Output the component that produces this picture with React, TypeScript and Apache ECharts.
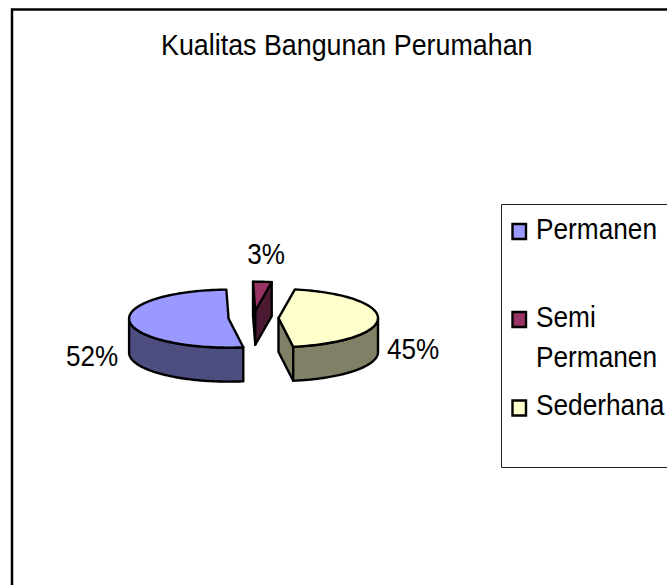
import React, { useEffect, useRef } from "react";
import * as echarts from "echarts";

const chartTitle = "Kualitas Bangunan Perumahan";
const categories = ["Permanen", "Semi Permanen", "Sederhana"];
const values = [52, 3, 45];
const topColors = ["#9999FF", "#993366", "#FFFFCC"];
const sideColors = ["#4D4D80", "#4D1A33", "#808066"];
const legendLines = [["Permanen"], ["Semi", "Permanen"], ["Sederhana"]];

const FONT = '"Liberation Sans", Arial, sans-serif';
const FONT_SIZE = 30;
const SCALE_X = 0.875;
const CX = 253.5, CY = 318, RX = 99.5, RY = 29, DEPTH = 34, EXPLODE = 25;
const FIRST_ANGLE = 171.5;
const labelPos = [[92, 356], [266, 254], [413, 349]];
const legendMarkerY = [231.5, 319.5, 408];
const legendLineY = [[228], [316, 356], [404]];

const total = values.reduce((a, b) => a + b, 0);
const rad = (d: number) => (d * Math.PI) / 180;

function renderSlice(params: any, api: any) {
  const i = params.dataIndex;
  const before = values.slice(0, i).reduce((a, b) => a + b, 0);
  const a0 = FIRST_ANGLE + (before / total) * 360;
  const a1 = a0 + (api.value(0) / total) * 360;
  const mid = rad((a0 + a1) / 2);
  const cx = CX + EXPLODE * Math.sin(mid);
  const cy = CY - EXPLODE * (RY / RX) * Math.cos(mid);
  const pt = (deg: number, dy = 0) => [cx + RX * Math.sin(rad(deg)), cy - RY * Math.cos(rad(deg)) + dy];
  const arc: number[][] = [];
  const n = Math.max(4, Math.ceil((a1 - a0) / 2));
  for (let k = 0; k <= n; k++) arc.push(pt(a0 + ((a1 - a0) * k) / n));
  const line = { stroke: "#000", lineWidth: 2.4, lineJoin: "round" };
  const children: any[] = [];
  const side = { fill: sideColors[i], ...line };
  const addFace = (deg: number, normal: number) => {
    if (-Math.cos(rad(normal)) > 0) {
      const p = pt(deg);
      children.push({
        type: "polygon",
        shape: { points: [[cx, cy], p, [p[0], p[1] + DEPTH], [cx, cy + DEPTH]] },
        style: side,
      });
    }
  };
  addFace(a0, a0 - 90);
  addFace(a1, a1 + 90);
  // outer wall: the part of the rim that faces the viewer
  const front: number[][] = [];
  for (let k = 0; k <= 360; k += 2) {
    const d = a0 + ((a1 - a0) * k) / 360;
    if (-Math.cos(rad(d)) >= 0) front.push(pt(d));
  }
  if (front.length > 1) {
    const lower = front.map((p) => [p[0], p[1] + DEPTH]).reverse();
    children.push({ type: "polygon", shape: { points: [...front, ...lower] }, style: side });
  }
  children.push({
    type: "polygon",
    shape: { points: [[cx, cy], ...arc] },
    style: { fill: topColors[i], ...line },
  });
  children.push({
    type: "text",
    x: labelPos[i][0],
    y: labelPos[i][1],
    scaleX: 0.87,
    style: {
      text: `${Math.round((api.value(0) / total) * 100)}%`,
      font: `${FONT_SIZE}px ${FONT}`,
      fill: "#000",
      align: "center",
      verticalAlign: "middle",
    },
  });
  return { type: "group", children };
}

function legendGraphics() {
  const items: any[] = [
    { type: "rect", shape: { x: 501.5, y: 204.5, width: 300, height: 263 }, style: { fill: "#fff", stroke: "#222", lineWidth: 1 } },
  ];
  categories.forEach((_, i) => {
    items.push({
      type: "rect",
      shape: { x: 512.5, y: legendMarkerY[i] - 7.5, width: 13.5, height: 15 },
      style: { fill: topColors[i], stroke: "#000", lineWidth: 2.4 },
    });
    legendLines[i].forEach((t, j) => {
      items.push({
        type: "text",
        x: 536,
        y: legendLineY[i][j],
        scaleX: SCALE_X,
        style: { text: t, font: `${FONT_SIZE}px ${FONT}`, fill: "#000", align: "left", verticalAlign: "middle" },
      });
    });
  });
  return items;
}

export default function App() {
  const ref = useRef<HTMLDivElement>(null);
  useEffect(() => {
    const chart = echarts.init(ref.current!, undefined, { renderer: "svg" });
    chart.setOption({
      animation: false,
      backgroundColor: "#fff",
      graphic: [
        { type: "rect", silent: true, shape: { x: 12, y: 9.5, width: 900, height: 900 }, style: { fill: "#fff", stroke: "#000", lineWidth: 2.5 }, z: -1 },
        {
          type: "text",
          x: 161,
          y: 44.5,
          scaleX: 0.895,
          style: { text: chartTitle, font: `${FONT_SIZE}px ${FONT}`, fill: "#000", align: "left", verticalAlign: "middle" },
        },
        ...legendGraphics(),
      ],
      series: [
        {
          type: "custom",
          coordinateSystem: "none",
          name: "Kualitas",
          renderItem: renderSlice,
          data: values.map((v, i) => ({ name: categories[i], value: [v] })),
          z: 5,
        },
      ],
    });
    return () => chart.dispose();
  }, []);
  return <div ref={ref} style={{ position: "absolute", left: 0, top: 0, width: 667, height: 585 }} />;
}
